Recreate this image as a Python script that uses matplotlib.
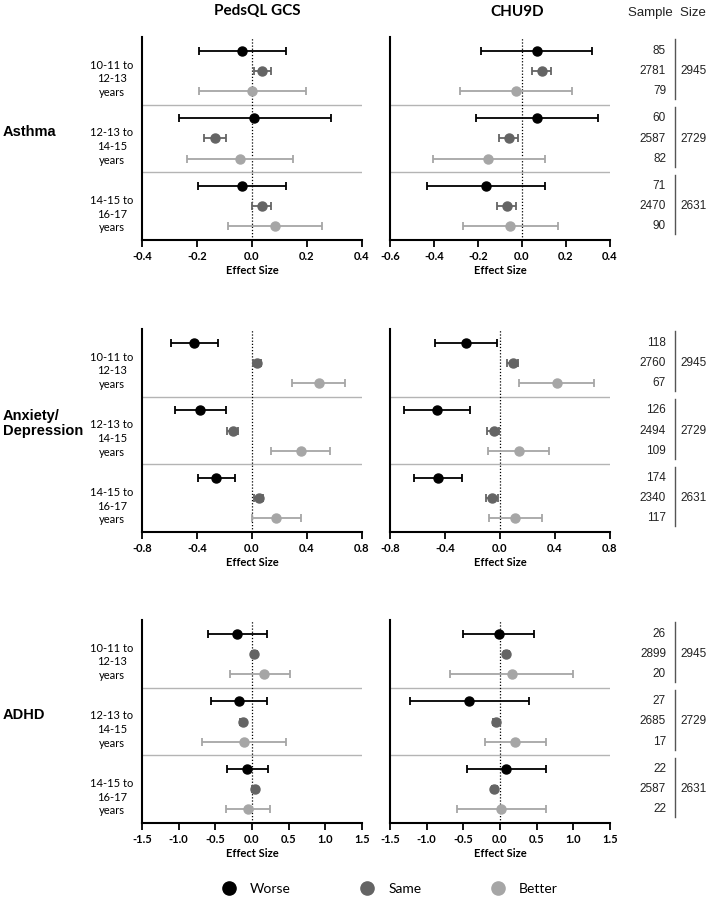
import matplotlib
matplotlib.use('Agg')
import matplotlib.pyplot as plt
import matplotlib.transforms as mtransforms
from matplotlib.lines import Line2D
from matplotlib.ticker import FormatStrFormatter, MultipleLocator

plt.rcParams['font.family'] = ['Lato', 'DejaVu Sans']

W, H = 708, 899

measures = ['PedsQL GCS', 'CHU9D']
conditions = ['Asthma', 'Anxiety/\nDepression', 'ADHD']
age_groups = ['10-11 to\n12-13\nyears', '12-13 to\n14-15\nyears', '14-15 to\n16-17\nyears']
statuses = ['Worse', 'Same', 'Better']
colors = ['#000000', '#646464', '#a6a6a6']

# effect sizes, rows = age group, cols = worse / same / better
pedsql_asthma_est = [[-0.035, 0.035, 0.001], [0.009, -0.135, -0.045], [-0.038, 0.036, 0.084]]
pedsql_asthma_lo = [[-0.194, 0.006, -0.194], [-0.267, -0.176, -0.236], [-0.198, 0.001, -0.086]]
pedsql_asthma_hi = [[0.124, 0.068, 0.196], [0.286, -0.095, 0.150], [0.122, 0.070, 0.255]]

chu9d_asthma_est = [[0.067, 0.091, -0.029], [0.067, -0.061, -0.153], [-0.164, -0.070, -0.053]]
chu9d_asthma_lo = [[-0.188, 0.047, -0.282], [-0.211, -0.104, -0.406], [-0.430, -0.112, -0.270]]
chu9d_asthma_hi = [[0.318, 0.130, 0.226], [0.347, -0.017, 0.103], [0.103, -0.029, 0.165]]

pedsql_anx_est = [[-0.422, 0.036, 0.485], [-0.376, -0.141, 0.354], [-0.262, 0.048, 0.175]]
pedsql_anx_lo = [[-0.591, 0.005, 0.288], [-0.562, -0.179, 0.138], [-0.395, 0.017, 0.002]]
pedsql_anx_hi = [[-0.247, 0.068, 0.676], [-0.187, -0.099, 0.570], [-0.124, 0.082, 0.354]]

chu9d_anx_est = [[-0.250, 0.095, 0.417], [-0.458, -0.046, 0.136], [-0.451, -0.058, 0.109]]
chu9d_anx_lo = [[-0.475, 0.051, 0.138], [-0.698, -0.092, -0.090], [-0.625, -0.102, -0.082]]
chu9d_anx_hi = [[-0.024, 0.133, 0.686], [-0.218, -0.005, 0.359], [-0.276, -0.017, 0.305]]

pedsql_adhd_est = [[-0.200, 0.032, 0.168], [-0.182, -0.127, -0.109], [-0.068, 0.036, -0.050]]
pedsql_adhd_lo = [[-0.595, 0.002, -0.300], [-0.564, -0.157, -0.677], [-0.345, 0.006, -0.355]]
pedsql_adhd_hi = [[0.209, 0.062, 0.523], [0.209, -0.097, 0.468], [0.218, 0.066, 0.250]]

chu9d_adhd_est = [[-0.014, 0.086, 0.159], [-0.418, -0.059, 0.205], [0.086, -0.077, 0.018]]
chu9d_adhd_lo = [[-0.500, 0.056, -0.682], [-1.227, -0.089, -0.205], [-0.450, -0.107, -0.591]]
chu9d_adhd_hi = [[0.464, 0.116, 0.991], [0.395, -0.029, 0.623], [0.623, -0.047, 0.627]]

# sample sizes per age group (worse, same, better) and totals
asthma_n = [[85, 2781, 79], [60, 2587, 82], [71, 2470, 90]]
anx_n = [[118, 2760, 67], [126, 2494, 109], [174, 2340, 117]]
adhd_n = [[26, 2899, 20], [27, 2685, 17], [22, 2587, 22]]
totals = [2945, 2729, 2631]

pedsql_xlim = [(-0.4, 0.4), (-0.8, 0.8), (-1.5, 1.5)]
chu9d_xlim = [(-0.6, 0.4), (-0.8, 0.8), (-1.5, 1.5)]
tick_steps = [0.2, 0.4, 0.5]

panels = [
    [(pedsql_asthma_est, pedsql_asthma_lo, pedsql_asthma_hi), (chu9d_asthma_est, chu9d_asthma_lo, chu9d_asthma_hi)],
    [(pedsql_anx_est, pedsql_anx_lo, pedsql_anx_hi), (chu9d_anx_est, chu9d_anx_lo, chu9d_anx_hi)],
    [(pedsql_adhd_est, pedsql_adhd_lo, pedsql_adhd_hi), (chu9d_adhd_est, chu9d_adhd_lo, chu9d_adhd_hi)],
]
sample_n = [asthma_n, anx_n, adhd_n]
xlims = [pedsql_xlim, chu9d_xlim]

row_offsets = [0.6, 1.5, 2.4]
panel_tops = [37, 329, 620]
panel_lefts = [142, 390]
panel_w, panel_h = 220, 203

fig = plt.figure(figsize=(W / 100, H / 100), dpi=100)


def fx(px):
    return px / W


def fy(py):
    return 1 - py / H


for r, cond in enumerate(conditions):
    for c in range(2):
        top = panel_tops[r]
        ax = fig.add_axes([fx(panel_lefts[c]), fy(top + panel_h), fx(panel_w), panel_h / H])
        est, lo, hi = panels[r][c]
        for g in range(3):
            for s in range(3):
                y = 3 * g + row_offsets[s]
                e = est[g][s]
                ax.errorbar([e], [y], xerr=[[e - lo[g][s]], [hi[g][s] - e]], fmt='o',
                            color=colors[s], ms=6.5, elinewidth=1.3, capsize=3, capthick=1.3,
                            zorder=3)
        for yy in (3, 6):
            ax.axhline(yy, color='#b4b4b4', lw=1, zorder=1)
        ax.axvline(0, color='black', ls=(0, (1, 1.5)), lw=0.9, zorder=2)
        ax.set_ylim(9, 0)
        ax.set_xlim(*xlims[c][r])
        ax.xaxis.set_major_locator(MultipleLocator(tick_steps[r]))
        ax.xaxis.set_major_formatter(FormatStrFormatter('%.1f'))
        ax.set_yticks([])
        for side in ('top', 'right'):
            ax.spines[side].set_visible(False)
        for side in ('left', 'bottom'):
            ax.spines[side].set_linewidth(1.5)
        ax.tick_params(axis='x', length=5, width=1.3, labelsize=8, pad=3)
        for lbl in ax.get_xticklabels():
            lbl.set_fontweight('bold')
        ax.set_xlabel('Effect Size', fontsize=8, fontweight='bold', labelpad=2)

        tr = mtransforms.blended_transform_factory(fig.transFigure, ax.transData)
        if c == 0:
            for g in range(3):
                ax.text(fx(112), 3 * g + 1.85, age_groups[g], transform=tr, ha='center',
                        va='center', fontsize=8, linespacing=1.3)
            ax.text(fx(3), 4.2, cond, transform=tr, ha='left', va='center', fontsize=10.5,
                    fontweight='bold', family='Liberation Sans', linespacing=1.1)
        else:
            for g in range(3):
                for s in range(3):
                    ax.text(fx(666), 3 * g + row_offsets[s], str(sample_n[r][g][s]),
                            transform=tr, ha='right', va='center', fontsize=8.5,
                            family='Liberation Sans', color='#222222')
                ax.add_line(Line2D([fx(675), fx(675)], [3 * g + 0.1, 3 * g + 2.75],
                                   transform=tr, color='#555555', lw=1, clip_on=False))
                ax.text(fx(680), 3 * g + 1.5, str(totals[g]), transform=tr, ha='left',
                        va='center', fontsize=8.5, family='Liberation Sans', color='#222222')

fig.text(fx(257), fy(11), measures[0], ha='center', va='center', fontsize=11, fontweight='bold')
fig.text(fx(517), fy(12), measures[1], ha='center', va='center', fontsize=11, fontweight='bold')
fig.text(fx(706), fy(13), 'Sample  Size', ha='right', va='center', fontsize=9.5,
         family='Liberation Sans', color='#222222')

handles = [Line2D([], [], ls='none', marker='o', ms=9.5, color=col) for col in colors]
fig.legend(handles, statuses, loc='center', bbox_to_anchor=(fx(390), fy(889)), ncol=3,
           frameon=False, fontsize=10, handlelength=1, handletextpad=1.0, columnspacing=5.0)

fig.savefig('out.png', dpi=100)
